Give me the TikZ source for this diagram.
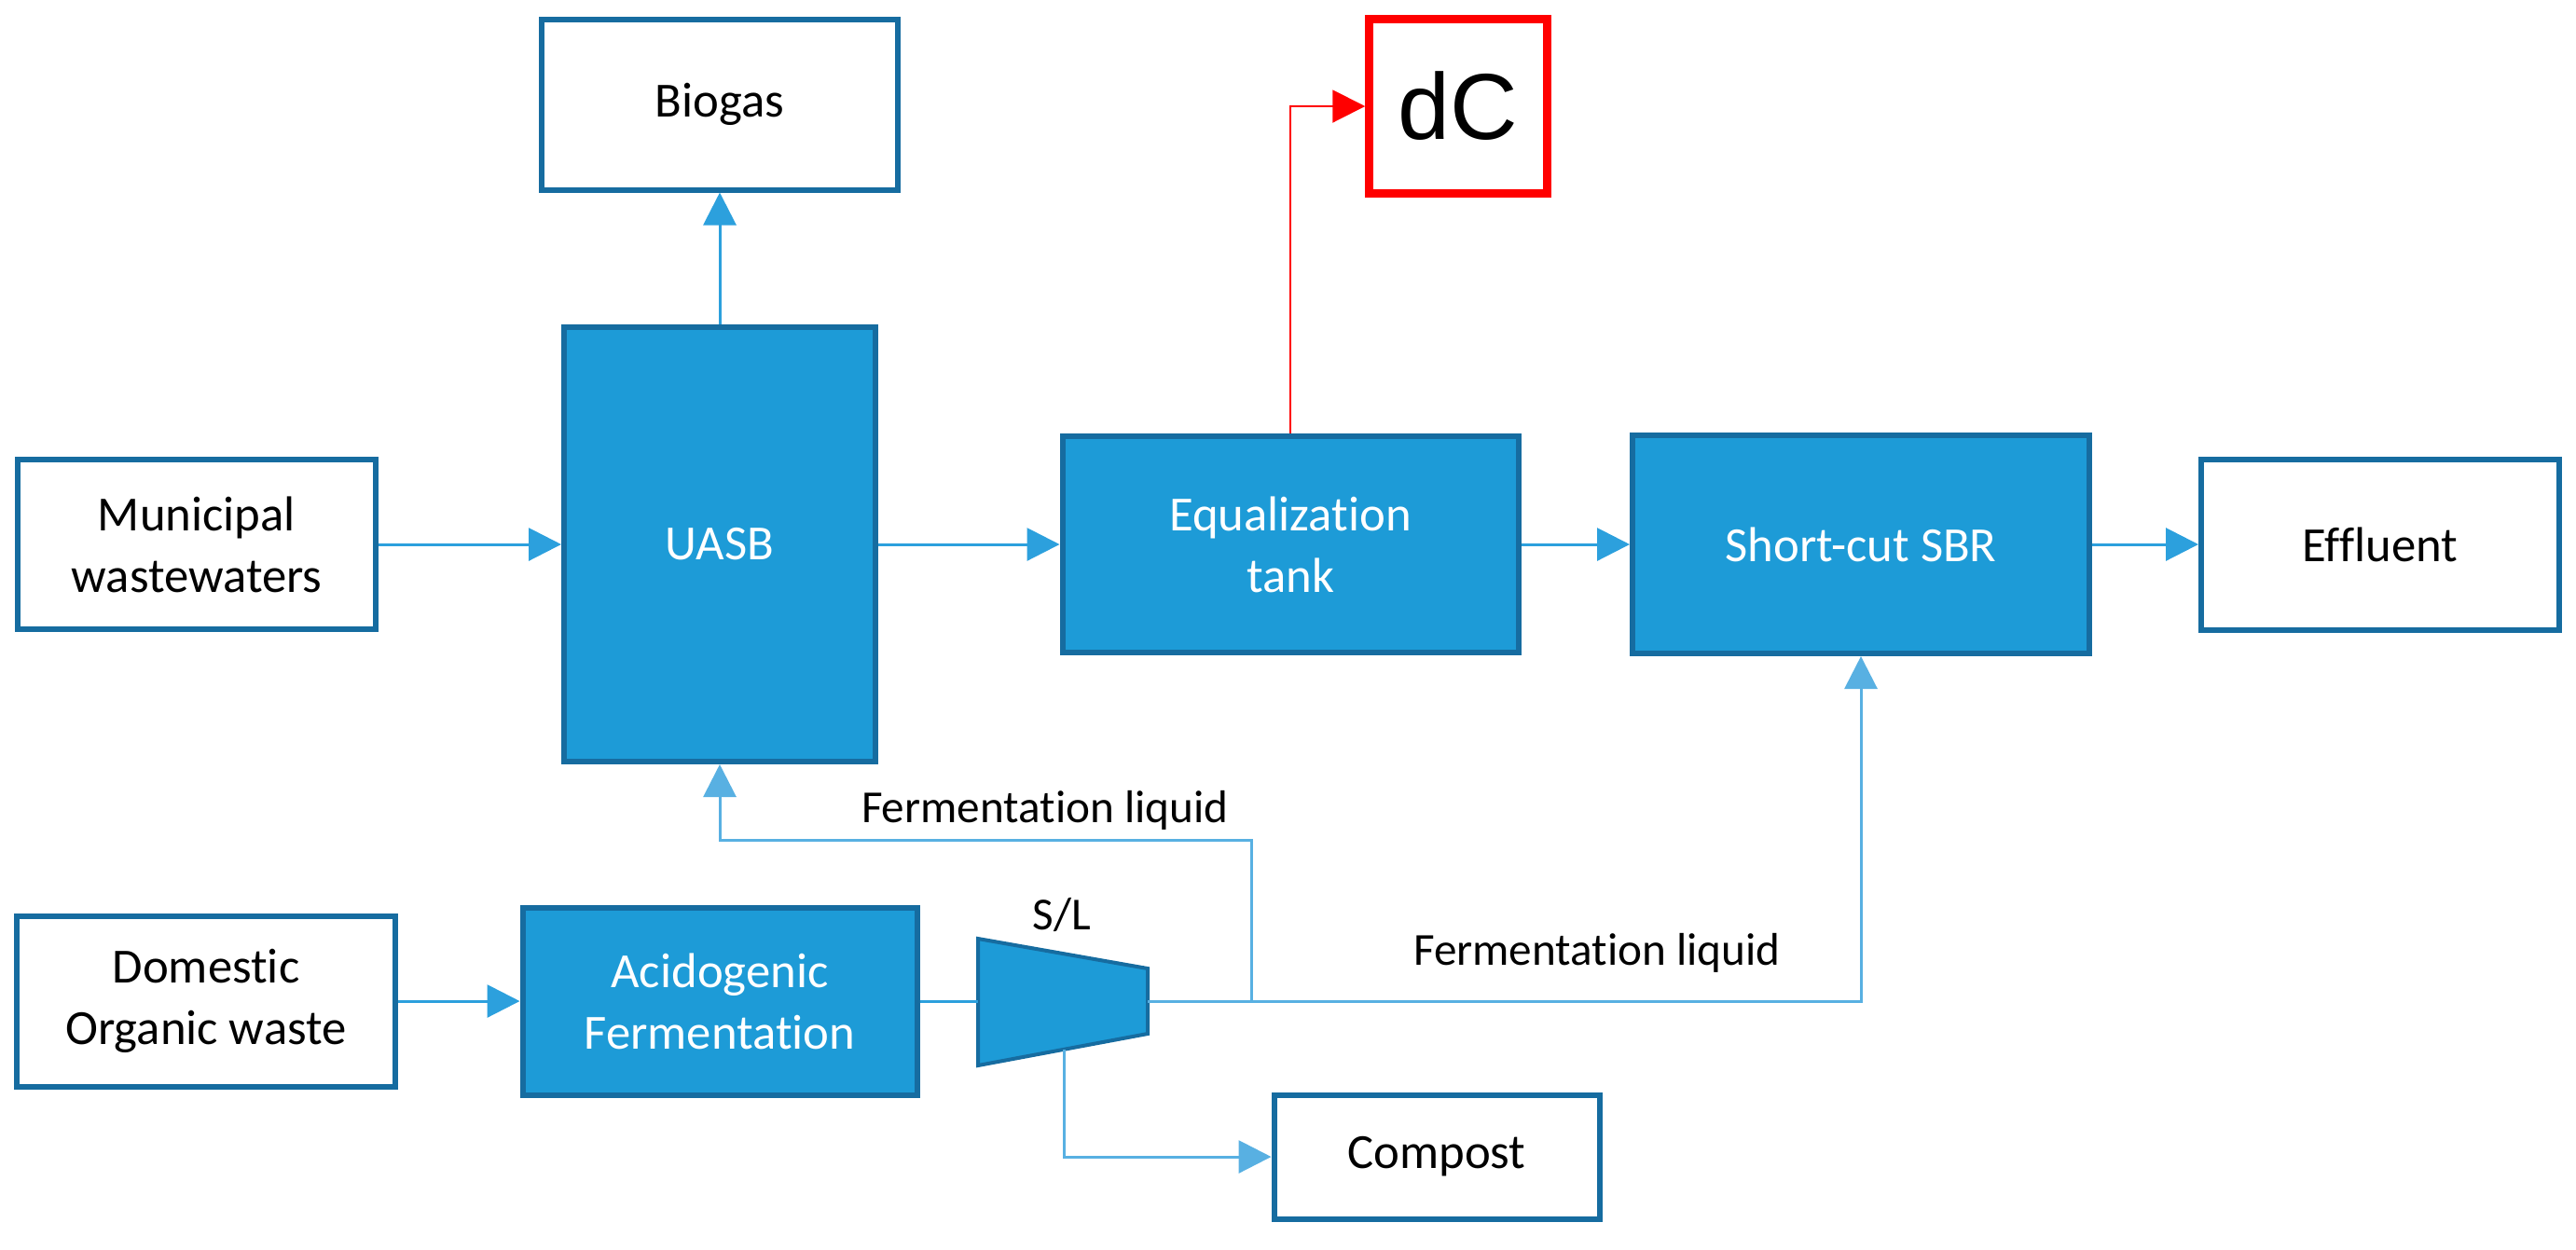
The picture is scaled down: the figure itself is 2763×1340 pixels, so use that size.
\documentclass[tikz,border=0pt]{standalone}
\usepackage{fontspec}
\setmainfont{Carlito}[Ligatures=NoCommon]
\newfontfamily\arialfont{Liberation Sans}
\usetikzlibrary{arrows.meta,positioning}
\definecolor{boxblue}{RGB}{29,155,215}
\definecolor{edgeblue}{RGB}{22,108,160}
\definecolor{lineblue}{RGB}{44,160,221}
\definecolor{feedblue}{RGB}{88,176,226}
\definecolor{dcred}{RGB}{255,0,0}
\tikzset{
  boxtext/.style={font=\fontsize{15}{18.8}\selectfont, align=center, inner sep=0pt},
  unit/.style={boxtext, draw=edgeblue, fill=boxblue, line width=0.6mm, text=white},
  stream/.style={boxtext, draw=edgeblue, fill=white, line width=0.6mm},
  flow/.style={draw=lineblue, line width=0.3mm, -{Triangle[length=3.5mm,width=3.5mm]}},
  feed/.style={flow, draw=feedblue},
  label/.style={font=\fontsize{14}{16}\selectfont, inner sep=0pt}
}
\begin{document}
\begin{tikzpicture}[x=0.1mm, y=-0.1mm]
   \useasboundingbox (0,0) rectangle (2763,1340);
   % top row
   \node[stream, minimum width=38.4mm, minimum height=18.2mm] (muni) at (211,584) {Municipal\\wastewaters};
   \node[unit, minimum width=33.4mm, minimum height=46.6mm] (uasb) at (772,584) {UASB};
   \node[stream, minimum width=38.2mm, minimum height=18.3mm] (biogas) at (772,112) {Biogas};
   \node[unit, minimum width=48.9mm, minimum height=23.2mm] (eq) at (1384,584) {Equalization\\tank};
   \node[unit, minimum width=49.0mm, minimum height=23.4mm] (sbr) at (1996,584) {Short-cut SBR};
   \node[stream, minimum width=38.4mm, minimum height=18.3mm] (eff) at (2553,584) {Effluent};
   \node[draw=dcred, line width=0.85mm, minimum width=19.1mm, minimum height=18.7mm, inner sep=0pt,
         font=\arialfont\fontsize{28.6}{30}\selectfont] (dC) at (1564,114) {dC};
   % bottom row
   \node[stream, minimum width=40.6mm, minimum height=18.3mm] (dom) at (221,1074) {Domestic\\Organic waste};
   \node[unit, minimum width=42.3mm, minimum height=20.1mm] (acid) at (772,1074) {Acidogenic\\Fermentation};
   \node[stream, minimum width=34.9mm, minimum height=13.3mm] (compost) at (1541,1241) {Compost};
   % S/L separator
   \filldraw[fill=boxblue, draw=edgeblue, line width=0.4mm] (1049,1007) -- (1231,1039) -- (1231,1109) -- (1049,1143) -- cycle;
   \coordinate (slin) at (1049,1074);
   \coordinate (slout) at (1231,1074);
   \coordinate (slbot) at (1141,1126);
   \coordinate (split) at (1342,1074);
   \coordinate (splitup) at (1342,901);
   \node[label] (sl) at (1139,981) {S/L};
   \node[label] (flup) at (1121,869) {Fermentation liquid};
   \node[label] (fldown) at (1713,1022) {Fermentation liquid};
   % connectors
   \draw[flow] (muni) -- (uasb);
   \draw[flow] (uasb) -- (eq);
   \draw[flow] (eq) -- (sbr);
   \draw[flow] (sbr) -- (eff);
   \draw[flow] (uasb) -- (biogas);
   \draw[dcred, line width=0.2mm, -{Triangle[length=3.5mm,width=3.5mm]}] (eq.north) |- (dC.west);
   \draw[flow] (dom) -- (acid);
   \draw[lineblue, line width=0.3mm] (acid) -- (slin);
   \draw[feed] (slout) -| (sbr.south);
   \draw[feed] (split) -- (splitup) -| (uasb.south);
   \draw[feed] (slbot) |- (compost.west);
\end{tikzpicture}
\end{document}
